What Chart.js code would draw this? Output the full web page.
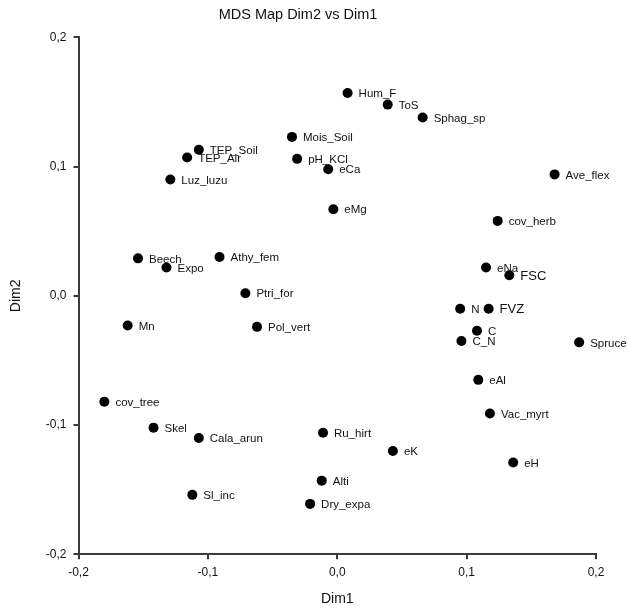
<!DOCTYPE html>
<html>
<head>
<meta charset="utf-8">
<title>MDS Map Dim2 vs Dim1</title>
<script src="https://cdn.jsdelivr.net/npm/chart.js@4/dist/chart.umd.min.js"></script>
<style>
  html, body { margin: 0; padding: 0; background: #fff; }
  #wrap { width: 629px; height: 610px; }
</style>
</head>
<body>
<div id="wrap"><canvas id="mdsChart" width="629" height="610"></canvas></div>
<script>
// point names and coordinates
var names = ['Hum_F', 'ToS', 'Sphag_sp', 'Mois_Soil', 'TEP_Soil', 'TEP_Air', 'pH_KCl', 'eCa',
  'Luz_luzu', 'Ave_flex', 'eMg', 'cov_herb', 'eNa', 'FSC', 'N', 'FVZ', 'C', 'C_N', 'Spruce',
  'eAl', 'Beech', 'Expo', 'Athy_fem', 'Ptri_for', 'Mn', 'Pol_vert', 'Vac_myrt', 'Ru_hirt',
  'eK', 'eH', 'Alti', 'Dry_expa', 'cov_tree', 'Skel', 'Cala_arun', 'Sl_inc'];
var dim1 = [0.008, 0.039, 0.066, -0.035, -0.107, -0.116, -0.031, -0.007,
  -0.129, 0.168, -0.003, 0.124, 0.115, 0.133, 0.095, 0.117, 0.108, 0.096, 0.187,
  0.109, -0.154, -0.132, -0.091, -0.071, -0.162, -0.062, 0.118, -0.011,
  0.043, 0.136, -0.012, -0.021, -0.180, -0.142, -0.107, -0.112];
var dim2 = [0.157, 0.148, 0.138, 0.123, 0.113, 0.107, 0.106, 0.098,
  0.090, 0.094, 0.067, 0.058, 0.022, 0.016, -0.010, -0.010, -0.027, -0.035, -0.036,
  -0.065, 0.029, 0.022, 0.030, 0.002, -0.023, -0.024, -0.091, -0.106,
  -0.120, -0.129, -0.143, -0.161, -0.082, -0.102, -0.110, -0.154];
var axisTicks = [-0.2, -0.1, 0.0, 0.1, 0.2];

var bigLabels = ['FSC', 'FVZ'];

function fmt(v) {
  if (Math.abs(v) < 1e-9) v = 0;
  return v.toFixed(1).replace('.', ',');
}

var points = [];
for (var i = 0; i < names.length; i++) {
  points.push({x: dim1[i], y: dim2[i]});
}

// write each name next to its dot
const pointLabels = {
  id: 'pointLabels',
  afterDatasetsDraw(chart) {
    var ctx = chart.ctx;
    var meta = chart.getDatasetMeta(0);
    ctx.save();
    ctx.fillStyle = '#111';
    ctx.textAlign = 'left';
    ctx.textBaseline = 'middle';
    meta.data.forEach(function(el, i) {
      var big = bigLabels.indexOf(names[i]) >= 0;
      ctx.font = big ? '13px "Liberation Sans", Arial, sans-serif' : '11.5px "Liberation Sans", Arial, sans-serif';
      ctx.fillText(names[i], el.x + 11, el.y + 1);
    });
    ctx.restore();
  }
};

const axisColor = '#3c3c3c';
const fontFamily = '"Liberation Sans", Arial, sans-serif';
const tickFont = {family: fontFamily, size: 12};
const titleFont = {family: fontFamily, size: 14};

const data = {
  datasets: [{
    label: 'MDS',
    data: points,
    backgroundColor: '#000',
    borderWidth: 0,
    pointRadius: 5,
    pointHoverRadius: 5
  }]
};

const config = {
  type: 'scatter',
  data,
  options: {
    responsive: false,
    animation: false,
    events: [],
    layout: { padding: { left: 0, right: 33, top: 0, bottom: 0 } },
    plugins: {
      legend: { display: false },
      tooltip: { enabled: false },
      title: {
        display: true,
        text: 'MDS Map Dim2 vs Dim1',
        color: '#111',
        font: {family: fontFamily, size: 14.5, weight: 'normal'},
        padding: { top: 6, bottom: 14 }
      }
    },
    scales: {
      x: {
        type: 'linear',
        min: -0.2,
        max: 0.2,
        afterBuildTicks: function(scale) {
          scale.ticks = axisTicks.map(function(v) { return {value: v}; });
        },
        afterFit: function(scale) { scale.height = 55.7; },
        grid: { display: true, drawOnChartArea: false, drawTicks: true, tickLength: 5, color: axisColor, lineWidth: 2 },
        border: { display: true, color: axisColor, width: 2 },
        ticks: { color: '#111', font: tickFont, padding: 6, maxRotation: 0, callback: function(v) { return fmt(v); } },
        title: { display: true, text: 'Dim1', color: '#111', font: titleFont, padding: { top: 0, bottom: 2 } }
      },
      y: {
        type: 'linear',
        min: -0.2,
        max: 0.2,
        afterBuildTicks: function(scale) {
          scale.ticks = axisTicks.map(function(v) { return {value: v}; });
        },
        afterFit: function(scale) { scale.width = 78.5; },
        grid: { display: true, drawOnChartArea: false, drawTicks: true, tickLength: 5, color: axisColor, lineWidth: 2 },
        border: { display: true, color: axisColor, width: 2 },
        ticks: { color: '#111', font: tickFont, padding: 7, callback: function(v) { return fmt(v); } },
        title: { display: true, text: 'Dim2', color: '#111', font: titleFont, padding: { top: 8, bottom: 0 } }
      }
    }
  },
  plugins: [pointLabels]
};

var myChart = new Chart(document.getElementById('mdsChart'), config);
</script>
</body>
</html>
